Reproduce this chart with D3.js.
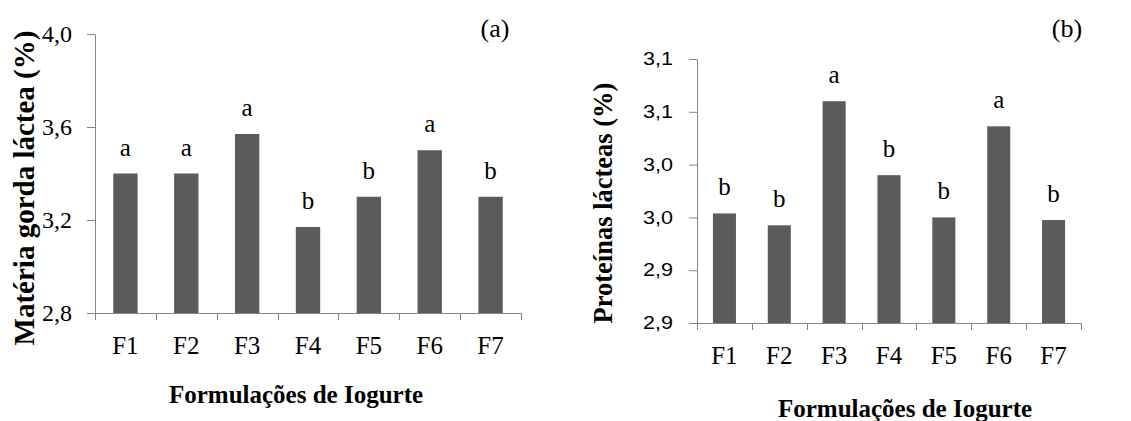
<!DOCTYPE html>
<html>
<head>
<meta charset="utf-8">
<script src="https://cdn.jsdelivr.net/npm/d3@7"></script>
<style>
  body { margin: 0; background: #fff; }
  svg { display: block; }
</style>
</head>
<body>
<svg width="1131" height="421"></svg>
<script>
var categories = ["F1", "F2", "F3", "F4", "F5", "F6", "F7"];

// (a) materia gorda
var gordaValues = [3.40, 3.40, 3.57, 3.17, 3.30, 3.50, 3.30];
var gordaLetters = ["a", "a", "a", "b", "b", "a", "b"];
var gordaTicks = [2.8, 3.2, 3.6, 4.0];

// (b) proteinas
var protValues = [2.983, 2.974, 3.068, 3.012, 2.980, 3.049, 2.978];
var protLetters = ["b", "b", "a", "b", "b", "a", "b"];
var protTicks = [2.90, 2.94, 2.98, 3.02, 3.06, 3.10];
var protTickLabels = ["2,9", "2,9", "3,0", "3,0", "3,1", "3,1"];

var svg = d3.select("svg");
var serif = "'Liberation Serif', 'Times New Roman', serif";
var axisColor = "#868686";
var barColor = "#5b5b5b";

function drawPanel(p) {
  var x = d3.scaleBand()
    .domain(categories)
    .range([p.left, p.right])
    .paddingInner(p.pad)
    .paddingOuter(p.pad / 2);
  var y = d3.scaleLinear()
    .domain(p.domain)
    .range([p.bottom, p.top]);

  var g = svg.append("g");

  // y axis
  var yAxis = d3.axisLeft(y)
    .tickValues(p.ticks)
    .tickSize(8)
    .tickSizeOuter(0)
    .tickPadding(p.tickPad)
    .tickFormat(function(d, i) { return p.tickLabels[i]; });
  var ya = g.append("g")
    .attr("transform", "translate(" + p.left + ",0)")
    .call(yAxis);
  ya.selectAll("path, line").attr("stroke", axisColor);
  var tl = ya.selectAll("text")
    .style("font-family", p.tickFont)
    .style("font-size", p.tickSize + "px")
    .attr("fill", "#000");
  if (p.tickWidth) {
    tl.attr("textLength", p.tickWidth).attr("lengthAdjust", "spacingAndGlyphs");
  }

  // bars
  g.selectAll(".bar")
    .data(p.values)
    .enter().append("rect")
    .attr("x", function(d, i) { return x(categories[i]); })
    .attr("y", function(d) { return y(d); })
    .attr("width", x.bandwidth())
    .attr("height", function(d) { return p.bottom - y(d); })
    .attr("fill", barColor);

  // x axis line and boundary ticks
  g.append("line")
    .attr("x1", p.left).attr("x2", p.right)
    .attr("y1", p.bottom + 0.5).attr("y2", p.bottom + 0.5)
    .attr("stroke", axisColor);
  var edges = categories.map(function(c) { return x(c) - x.step() * x.paddingInner() / 2; });
  edges.push(p.right);
  g.selectAll(".xtick")
    .data(edges)
    .enter().append("line")
    .attr("x1", function(d) { return Math.round(d) + 0.5; })
    .attr("x2", function(d) { return Math.round(d) + 0.5; })
    .attr("y1", p.bottom)
    .attr("y2", p.bottom + 7)
    .attr("stroke", axisColor);

  // category labels
  g.selectAll(".cat")
    .data(categories)
    .enter().append("text")
    .attr("x", function(d) { return x(d) + x.bandwidth() / 2; })
    .attr("y", p.bottom + 32)
    .attr("dy", "0.35em")
    .attr("text-anchor", "middle")
    .style("font-family", serif)
    .style("font-size", "25px")
    .text(function(d) { return d; });

  // letters
  g.selectAll(".letter")
    .data(p.values)
    .enter().append("text")
    .attr("x", function(d, i) { return x(categories[i]) + x.bandwidth() / 2; })
    .attr("y", function(d) { return y(d) - 18; })
    .attr("text-anchor", "middle")
    .style("font-family", serif)
    .style("font-size", "25px")
    .text(function(d, i) { return p.letters[i]; });

  // titles
  g.append("text")
    .attr("x", p.xTitleX)
    .attr("y", p.xTitleY)
    .attr("text-anchor", "middle")
    .style("font-family", serif)
    .style("font-weight", "bold")
    .style("font-size", p.xTitleSize + "px")
    .text("Formulações de Iogurte");

  g.append("text")
    .attr("transform", "translate(" + p.yTitleX + "," + p.yTitleY + ") rotate(-90)")
    .attr("dy", "0.35em")
    .attr("text-anchor", "middle")
    .style("font-family", serif)
    .style("font-weight", "bold")
    .style("font-size", p.yTitleSize + "px")
    .text(p.yTitle);

  g.append("text")
    .attr("x", p.tagX)
    .attr("y", p.tagY)
    .attr("text-anchor", "middle")
    .style("font-family", serif)
    .style("font-size", "26px")
    .text(p.tag);
}

drawPanel({
  left: 95, right: 521, top: 34, bottom: 313, pad: 0.6,
  domain: [2.8, 4.0], ticks: gordaTicks,
  tickLabels: gordaTicks.map(function(d) { return d3.format(".1f")(d).replace(".", ","); }),
  tickFont: serif, tickSize: 24, tickPad: 15,
  values: gordaValues, letters: gordaLetters,
  xTitleX: 296, xTitleY: 403, xTitleSize: 25,
  yTitle: "Matéria gorda láctea (%)", yTitleX: 24, yTitleY: 188, yTitleSize: 29,
  tag: "(a)", tagX: 495, tagY: 37
});

drawPanel({
  left: 697, right: 1081, top: 59, bottom: 323, pad: 0.58,
  domain: [2.90, 3.10], ticks: protTicks, tickLabels: protTickLabels,
  tickFont: "'Liberation Sans', Arial, sans-serif", tickSize: 18, tickPad: 16, tickWidth: 30,
  values: protValues, letters: protLetters,
  xTitleX: 905, xTitleY: 417, xTitleSize: 25,
  yTitle: "Proteínas lácteas (%)", yTitleX: 603, yTitleY: 203, yTitleSize: 26.5,
  tag: "(b)", tagX: 1067, tagY: 37
});
</script>
</body>
</html>
